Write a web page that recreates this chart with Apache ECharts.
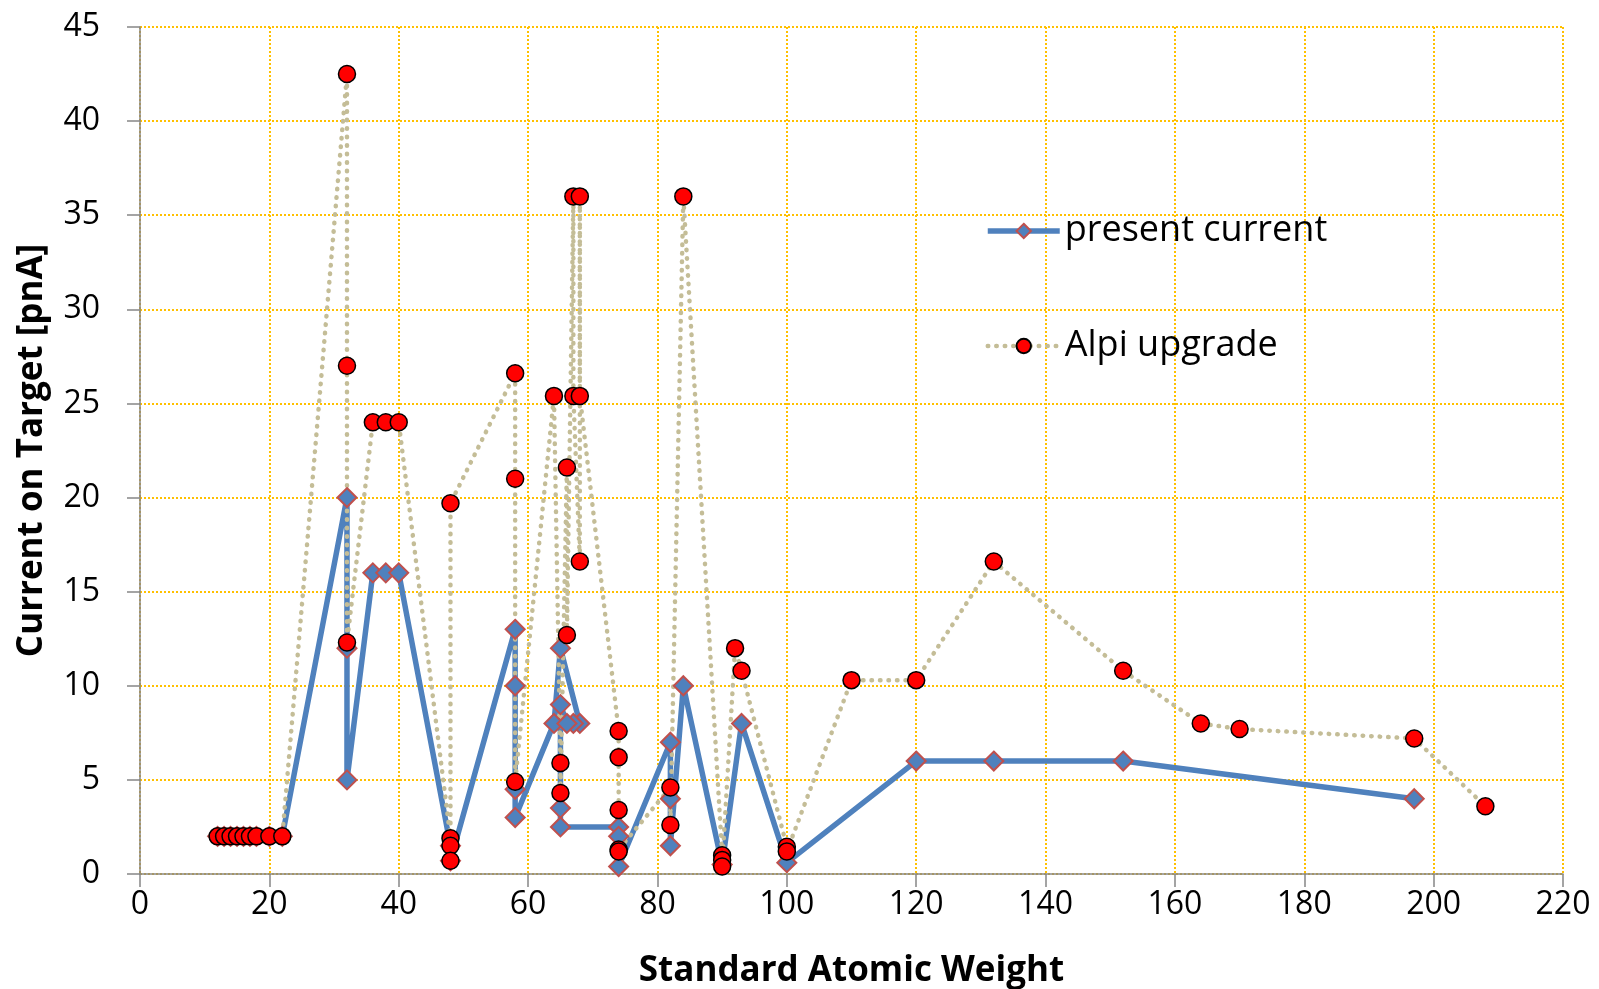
<!DOCTYPE html>
<html>
<head>
<meta charset="utf-8">
<script src="https://cdn.jsdelivr.net/npm/echarts@6/dist/echarts.min.js"></script>
<style>
  html, body { margin: 0; padding: 0; background: #fff; }
  #chart { width: 1599px; height: 989px; }
</style>
</head>
<body>
<div id="chart"></div>
<script>
// present current (blue diamonds), points in drawing order
let presentMass = [12, 13, 14, 15, 16, 17, 18, 20, 22, 32, 32, 32, 36, 38, 40, 48, 48,
  58, 58, 58, 58, 64, 65, 68, 67, 66, 65, 65, 65, 74, 74, 74, 82, 82, 82,
  84, 90, 93, 100, 120, 132, 152, 197]
let presentCurrent = [2, 2, 2, 2, 2, 2, 2, 2, 2, 20, 12, 5, 16, 16, 16, 1.5, 0.7,
  13, 10, 4.5, 3, 8, 12, 8, 8, 8, 9, 3.5, 2.5, 2.5, 2, 0.4, 7, 4, 1.5,
  10, 0.5, 8, 0.6, 6, 6, 6, 4]

// Alpi upgrade (red circles)
let alpiMass = [12, 13, 14, 15, 16, 17, 18, 20, 22, 32, 32, 32, 36, 38, 40, 48, 48, 48, 48,
  58, 58, 58, 64, 65, 65, 66, 66, 67, 67, 68, 68, 68, 74, 74, 74, 74, 74, 82, 82, 84,
  90, 90, 90, 92, 93, 100, 100, 110, 120, 132, 152, 164, 170, 197, 208]
let alpiCurrent = [2, 2, 2, 2, 2, 2, 2, 2, 2, 42.5, 27, 12.3, 24, 24, 24, 1.9, 1.5, 0.7, 19.7,
  26.6, 21, 4.9, 25.4, 5.9, 4.3, 21.6, 12.7, 36, 25.4, 16.6, 36, 25.4, 7.6, 6.2, 3.4, 1.3, 1.2, 4.6, 2.6, 36,
  1.0, 0.75, 0.4, 12, 10.8, 1.45, 1.2, 10.3, 10.3, 16.6, 10.8, 8.0, 7.7, 7.2, 3.6]

let xTicks = { min: 0, max: 220, step: 20 }
let yTicks = { min: 0, max: 45, step: 5 }

let font = 'Open Sans'
let pair = (xs, ys) => xs.map((x, i) => [x, ys[i]])

let chart = echarts.init(document.getElementById('chart'))

let gridLine = { show: true, lineStyle: { color: '#FFC000', type: [2, 2], width: 2 } }
let axisLine = { show: true, onZero: false, lineStyle: { color: '#868686', width: 1.5 } }
let axisTick = { show: true, length: 13, lineStyle: { color: '#868686', width: 1.5 } }

let blueLine = { color: '#4F81BD', width: 5.5 }
let tanDots = { color: '#C4BD97', width: 4.5, type: [0.5, 8], cap: 'round' }

chart.setOption({
  animation: false,
  textStyle: { fontFamily: font },
  grid: { left: 140, right: 36, top: 27, bottom: 115, outerBoundsMode: 'none', containLabel: false },
  legend: {
    orient: 'vertical',
    left: 980,
    top: 208,
    itemWidth: 72,
    itemHeight: 18,
    itemGap: 79,
    textStyle: { fontSize: 36, color: '#000', fontFamily: font },
    data: [
      { name: 'present current', lineStyle: blueLine },
      { name: 'Alpi upgrade', lineStyle: tanDots }
    ]
  },
  xAxis: {
    type: 'value',
    min: xTicks.min,
    max: xTicks.max,
    interval: xTicks.step,
    name: 'Standard Atomic Weight',
    nameLocation: 'middle',
    nameGap: 80,
    nameTextStyle: { fontSize: 35, fontWeight: 'bold', color: '#000' },
    axisLine: axisLine,
    axisTick: axisTick,
    axisLabel: { fontSize: 32, color: '#000', margin: 15 },
    splitLine: gridLine
  },
  yAxis: {
    type: 'value',
    min: yTicks.min,
    max: yTicks.max,
    interval: yTicks.step,
    name: 'Current on Target [pnA]',
    nameLocation: 'middle',
    nameGap: 90,
    nameTextStyle: { fontSize: 35, fontWeight: 'bold', color: '#000' },
    axisLine: axisLine,
    axisTick: axisTick,
    axisLabel: { fontSize: 32, color: '#000', margin: 40 },
    splitLine: gridLine
  },
  series: [
    {
      name: 'present current',
      type: 'line',
      data: pair(presentMass, presentCurrent),
      symbol: 'diamond',
      symbolSize: 19,
      lineStyle: blueLine,
      itemStyle: { color: '#4F81BD', borderColor: '#C0504D', borderWidth: 2 }
    },
    {
      name: 'Alpi upgrade',
      type: 'line',
      data: pair(alpiMass, alpiCurrent),
      symbol: 'circle',
      symbolSize: 17,
      lineStyle: tanDots,
      itemStyle: { color: '#FF0000', borderColor: '#000', borderWidth: 1.5 }
    }
  ]
})
</script>
</body>
</html>
